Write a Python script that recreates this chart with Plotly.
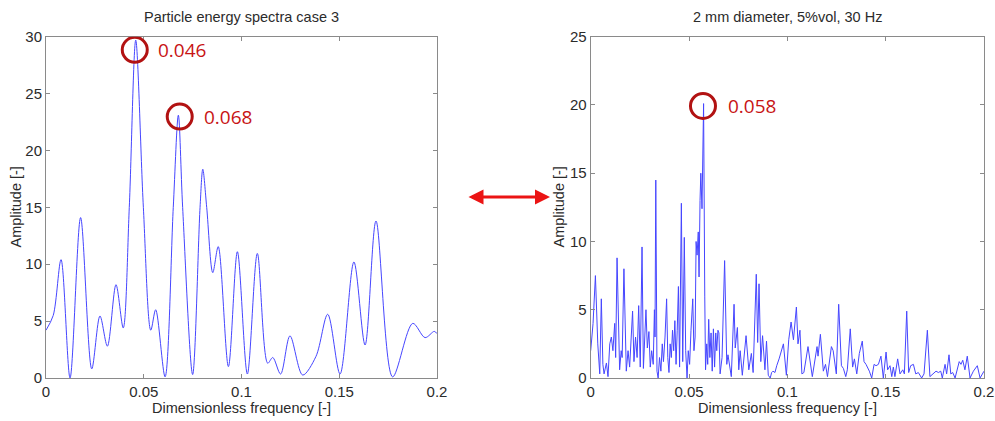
import plotly.graph_objects as go

# ---------------- data ----------------
left_title = "Particle energy spectra case 3"
right_title = "2 mm diameter, 5%vol, 30 Hz"
x_label = "Dimensionless frequency [-]"
y_label = "Amplitude [-]"

x_ticks = [0, 0.05, 0.1, 0.15, 0.2]
x_tick_text = ["0", "0.05", "0.1", "0.15", "0.2"]
left_y_ticks = [0, 5, 10, 15, 20, 25, 30]
right_y_ticks = [0, 5, 10, 15, 20, 25]

left_x = [0, 0.0037, 0.0077, 0.0123, 0.0177, 0.0234, 0.0276, 0.0314, 0.0358, 0.0395,
          0.0426, 0.0459, 0.0498, 0.0536, 0.0561, 0.0609, 0.0651, 0.0677, 0.0699, 0.0750,
          0.0788, 0.0802, 0.0822, 0.0853, 0.0881, 0.0933, 0.0979, 0.1030, 0.1081, 0.1134,
          0.1160, 0.1200, 0.1248, 0.1313, 0.1381, 0.1441, 0.1504, 0.1575, 0.1632, 0.1688,
          0.1773, 0.1876, 0.1939, 0.1986, 0.2]
left_y = [4.2, 5.5, 10.4, 0.0, 14.1, 0.8, 5.45, 2.8, 8.2, 4.4,
          15.0, 29.7, 15.0, 4.2, 6.0, 0.1, 15.0, 23.1, 15.0, 0.3,
          15.0, 18.35, 15.0, 9.26, 11.55, 1.0, 11.1, 0.35, 10.95, 1.3,
          1.8, 0.35, 3.7, 0.26, 1.9, 5.6, 0.35, 10.2, 2.9, 13.8,
          0.1, 4.8, 3.55, 4.1, 3.9]

right_x = [0.0, 0.0012, 0.0024, 0.0030, 0.0036, 0.0046, 0.0054, 0.0062, 0.0068, 0.0080,
           0.0088, 0.0097, 0.0105, 0.0113, 0.0122, 0.0127, 0.0134, 0.0147, 0.0155, 0.0160,
           0.0169, 0.0181, 0.0190, 0.0198, 0.0205, 0.0213, 0.0220, 0.0228, 0.0236, 0.0244,
           0.0252, 0.0261, 0.0268, 0.0274, 0.0281, 0.0288, 0.0296, 0.0303, 0.0310, 0.0318,
           0.0324, 0.0327, 0.0331, 0.0337, 0.0343, 0.0350, 0.0357, 0.0364, 0.0370, 0.0378,
           0.0386, 0.0392, 0.0398, 0.0404, 0.0410, 0.0416, 0.0422, 0.0428, 0.0434, 0.0440,
           0.0446, 0.0452, 0.0461, 0.0468, 0.0476, 0.0483, 0.0490, 0.0496, 0.0503, 0.0510,
           0.0519, 0.0525, 0.0531, 0.0536, 0.0541, 0.0547, 0.0551, 0.0556, 0.0560, 0.0566,
           0.0574, 0.0580, 0.0584, 0.0590, 0.0595, 0.0600, 0.0606, 0.0612, 0.0618, 0.0624,
           0.0630, 0.0636, 0.0641, 0.0647, 0.0652, 0.0658, 0.0668, 0.0681, 0.0692, 0.0698,
           0.0715, 0.0729, 0.0735, 0.0746, 0.0753, 0.0760, 0.0771, 0.0790, 0.0804, 0.0817,
           0.0826, 0.0842, 0.0849, 0.0856, 0.0865, 0.0874, 0.0886, 0.0894, 0.0903, 0.0913,
           0.0920, 0.0927, 0.0937, 0.0946, 0.0958, 0.0980, 0.0995, 0.1007, 0.1019, 0.1031,
           0.1046, 0.1054, 0.1064, 0.1074, 0.1084, 0.1105, 0.1115, 0.1127, 0.1151, 0.1156,
           0.1168, 0.1183, 0.1194, 0.1204, 0.1224, 0.1233, 0.1249, 0.1261, 0.1275, 0.1285,
           0.1297, 0.1305, 0.1320, 0.1332, 0.1341, 0.1353, 0.1366, 0.1381, 0.1390, 0.1400,
           0.1417, 0.1429, 0.1441, 0.1451, 0.1463, 0.1476, 0.1488, 0.1502, 0.1510, 0.1522,
           0.1531, 0.1539, 0.1547, 0.1561, 0.1573, 0.1587, 0.1595, 0.1607, 0.1617, 0.1627,
           0.1641, 0.1653, 0.1666, 0.1683, 0.1695, 0.1712, 0.1725, 0.1742, 0.1756, 0.1768,
           0.1780, 0.1788, 0.1802, 0.1810, 0.1822, 0.1831, 0.1841, 0.1853, 0.1874, 0.1883,
           0.1892, 0.1903, 0.1915, 0.1929, 0.1946, 0.1966, 0.1980, 0.2]
right_y = [2.0, 4.0, 7.5, 5.0, 2.5, 0.3, 5.8, 1.0, 0.3, 1.1,
           0.1, 2.5, 3.0, 2.0, 4.0, 1.5, 8.8, 0.6, 2.0, 1.5,
           8.0, 0.5, 2.0, 0.8, 2.6, 4.9, 1.2, 3.0, 1.5, 5.3,
           0.8, 9.6, 0.7, 2.5, 5.0, 2.2, 3.4, 0.8, 2.0, 1.0,
           5.0, 3.0, 14.5, 0.5, 0.0, 1.5, 0.5, 2.5, 1.2, 3.0,
           5.8, 1.5, 0.4, 2.5, 1.5, 3.5, 2.0, 4.2, 1.0, 3.5,
           6.7, 0.8, 12.8, 1.2, 10.3, 2.0, 0.0, 2.0, 1.0, 3.5,
           5.8, 2.0, 3.0, 10.0, 9.0, 10.7, 7.4, 13.0, 15.0, 12.4,
           20.1, 6.0, 0.6, 2.5, 1.0, 4.3, 1.5, 3.3, 0.5, 3.6,
           0.8, 3.3, 2.0, 3.5, 3.3, 0.3, 1.5, 8.6, 1.0, 1.7,
           0.1, 5.4, 2.2, 3.7, 0.6, 2.0, 0.2, 3.1, 0.6, 1.8,
           0.4, 7.6, 2.6, 6.9, 1.2, 3.1, 0.6, 2.7, 0.2, 0.0,
           0.4, 0.5, 0.4, 0.9, 1.4, 2.5, 0.2, 2.8, 4.1, 2.8,
           5.2, 2.5, 3.5, 0.3, 0.4, 2.3, 1.3, 0.1, 2.3, 1.6,
           3.2, 0.5, 1.0, 0.1, 2.3, 2.0, 0.3, 5.4, 0.9, 0.7,
           0.1, 0.6, 3.6, 0.8, 1.4, 0.3, 1.8, 2.7, 1.2, 1.0,
           0.5, 0.0, 1.0, 0.9, 1.0, 1.6, 0.0, 1.9, 0.6, 0.9,
           0.1, 0.8, 0.1, 1.4, 0.3, 0.6, 0.3, 4.9, 0.4, 0.9,
           1.0, 0.3, 0.4, 0.0, 0.3, 3.5, 0.1, 0.3, 0.5, 0.4,
           0.5, 0.0, 1.0, 0.3, 1.7, 0.3, 0.4, 0.0, 1.2, 1.0,
           1.3, 0.6, 1.6, 0.0, 0.5, 0.9, 0.0, 0.5]

# highlighted peaks: (x, y, label) for each panel
left_marks_x = [0.0454, 0.0684]
left_marks_y = [28.85, 22.98]
left_marks_text = ["0.046", "0.068"]
left_label_x = [0.0563, 0.0796]
right_marks_x = [0.0571]
right_marks_y = [19.93]
right_marks_text = ["0.058"]
right_label_x = [0.0688]

# ---------------- figure ----------------
W, H = 995, 421
L_DOM = [46 / W, 437 / W]
R_DOM = [590.7 / W, 984 / W]
Y_DOM = [1 - 378 / H, 1 - 36.7 / H]

LINE_BLUE = "rgb(70,70,255)"
AX_GREY = "#8a8a8a"
TXT = "#2b2b2b"
FONT = "Liberation Sans, Arial, sans-serif"

fig = go.Figure()
fig.add_trace(go.Scatter(x=left_x, y=left_y, mode="lines",
                         line=dict(color=LINE_BLUE, width=1, shape="spline", smoothing=0.9),
                         xaxis="x", yaxis="y", showlegend=False, hoverinfo="x+y"))
fig.add_trace(go.Scatter(x=right_x, y=right_y, mode="lines",
                         line=dict(color=LINE_BLUE, width=1),
                         xaxis="x2", yaxis="y2", showlegend=False, hoverinfo="x+y"))

axis_common = dict(showline=True, linecolor=AX_GREY, linewidth=1, mirror="ticks",
                   ticks="inside", ticklen=4, tickcolor=AX_GREY, showgrid=False,
                   zeroline=False, automargin=False,
                   tickfont=dict(family=FONT, size=15, color=TXT))

fig.update_layout(
    width=W, height=H,
    margin=dict(l=0, r=0, t=0, b=0, autoexpand=False),
    paper_bgcolor="white", plot_bgcolor="white",
    xaxis=dict(domain=L_DOM, range=[0, 0.2], tickvals=x_ticks, ticktext=x_tick_text,
               anchor="y", **axis_common),
    yaxis=dict(domain=Y_DOM, range=[0, 30], tickvals=left_y_ticks, anchor="x", **axis_common),
    xaxis2=dict(domain=R_DOM, range=[0, 0.2], tickvals=x_ticks, ticktext=x_tick_text,
                anchor="y2", **axis_common),
    yaxis2=dict(domain=Y_DOM, range=[0, 25], tickvals=right_y_ticks, anchor="x2", **axis_common),
)

title_font = dict(family=FONT, size=14.5, color=TXT)
annos = []
for dom, t in [(L_DOM, left_title), (R_DOM, right_title)]:
    cx = (dom[0] + dom[1]) / 2
    annos.append(dict(text=t, x=cx, y=1 - 17 / H, xref="paper", yref="paper",
                      xanchor="center", yanchor="middle", showarrow=False, font=title_font))
    annos.append(dict(text=x_label, x=cx, y=1 - 408 / H, xref="paper", yref="paper",
                      xanchor="center", yanchor="middle", showarrow=False, font=title_font))
for px in [15, 558]:
    annos.append(dict(text=y_label, x=px / W, y=1 - 207.5 / H, xref="paper", yref="paper",
                      xanchor="center", yanchor="middle", textangle=-90, showarrow=False,
                      font=title_font))

# peak labels and circles
CIRC = "rgb(178,18,18)"
LBL = "rgb(200,20,20)"
shapes = []
for xs, ys, ts, lx, xr, yr in [(left_marks_x, left_marks_y, left_marks_text, left_label_x, "x", "y"),
                               (right_marks_x, right_marks_y, right_marks_text, right_label_x, "x2", "y2")]:
    for xv, yv, tv, lxv in zip(xs, ys, ts, lx):
        shapes.append(dict(type="circle", xref=xr, yref=yr, xsizemode="pixel", ysizemode="pixel",
                           xanchor=xv, yanchor=yv, x0=-12.5, x1=12.5, y0=-12.5, y1=12.5,
                           line=dict(color=CIRC, width=3)))
        annos.append(dict(text=tv, x=lxv, y=yv, xref=xr, yref=yr, xanchor="left",
                          yanchor="middle", showarrow=False,
                          font=dict(family="Open Sans, sans-serif", size=19, color=LBL)))

# double-headed arrow between panels
annos.append(dict(x=550 / W, y=1 - 197 / H, ax=-83, ay=0,
                  xref="paper", yref="paper", axref="pixel", ayref="pixel",
                  text="", showarrow=True, arrowhead=2, startarrowhead=2,
                  arrowside="end+start", arrowsize=1, arrowwidth=3, arrowcolor="rgb(235,20,20)"))

fig.update_layout(annotations=annos, shapes=shapes)
fig.write_html("out.html", config={"displayModeBar": False},
               post_script="document.body.style.margin='0px';document.body.style.overflow='hidden';")
